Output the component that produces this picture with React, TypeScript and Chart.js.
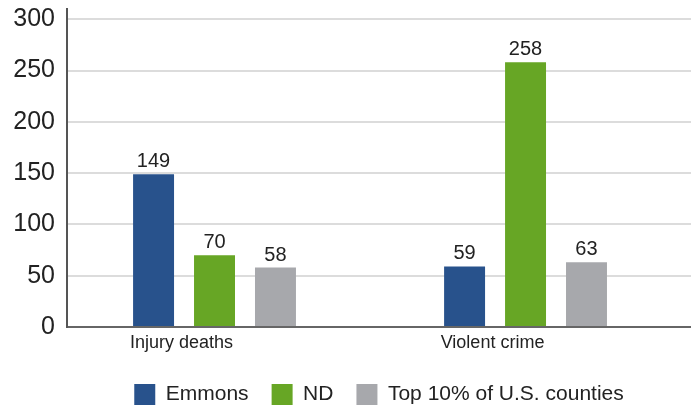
import React, { useEffect, useRef } from "react";
import { Chart, registerables } from "chart.js";

Chart.register(...registerables);

const categories = ["Injury deaths", "Violent crime"];
const seriesNames = ["Emmons", "ND", "Top 10% of U.S. counties"];
const emmonsValues = [149, 59];
const ndValues = [70, 258];
const topCountiesValues = [58, 63];
const yTickValues = [0, 50, 100, 150, 200, 250, 300];
const seriesColors = ["#28528c", "#67a625", "#a7a8ac"];

const FONT = '"Liberation Sans", Arial, Helvetica, sans-serif';

const valueLabels = {
  id: "valueLabels",
  afterDatasetsDraw(chart: any) {
    const ctx = chart.ctx;
    ctx.save();
    ctx.font = `20px ${FONT}`;
    ctx.fillStyle = "#222";
    ctx.textAlign = "center";
    ctx.textBaseline = "alphabetic";
    chart.data.datasets.forEach((ds: any, i: number) => {
      const meta = chart.getDatasetMeta(i);
      meta.data.forEach((el: any, j: number) => {
        ctx.fillText(String(ds.data[j].y), el.x, el.y - 7);
      });
    });
    ctx.restore();
  },
};

export default function App() {
  const ref = useRef<HTMLCanvasElement>(null);
  useEffect(() => {
    if (!ref.current) return;
    const seriesValues = [emmonsValues, ndValues, topCountiesValues];
    const chart = new Chart(ref.current, {
      type: "bar",
      data: {
        datasets: seriesNames.map((name, s) => ({
          label: name,
          data: categories.map((_, i) => ({ x: i + 1, y: seriesValues[s][i] })),
          backgroundColor: seriesColors[s],
          borderWidth: 0,
          categoryPercentage: 0.588,
          barPercentage: 0.672,
        })),
      },
      options: {
        responsive: false,
        animation: false,
        layout: { padding: { left: 0, right: 0, top: 9, bottom: -7 } },
        plugins: {
          tooltip: { enabled: false },
          legend: {
            position: "bottom",
            fullSize: false,
            labels: {
              boxWidth: 21,
              boxHeight: 21,
              padding: 23,
              color: "#222",
              font: { family: FONT, size: 21 },
            },
          },
        },
        scales: {
          x: {
            type: "linear",
            min: 0.5257,
            max: 2.532,
            offset: false,
            grid: { display: false, offset: false, drawTicks: false },
            border: { display: true, color: "#666", width: 2 },
            afterBuildTicks: (s: any) => {
              s.ticks = categories.map((_, i) => ({ value: i + 1 }));
            },
            afterFit: (s: any) => {
              s.height = 34;
              s.paddingLeft = 0;
              s.paddingRight = 0;
            },
            ticks: {
              padding: 5,
              labelOffset: -33,
              color: "#222",
              font: { family: FONT, size: 18 },
              callback: (v: any) => categories[Math.round(Number(v)) - 1] ?? "",
            },
          },
          y: {
            min: 0,
            max: 310,
            afterBuildTicks: (s: any) => {
              s.ticks = yTickValues.map((v) => ({ value: v }));
            },
            afterFit: (s: any) => {
              s.width = 67;
              s.paddingTop = 0;
              s.paddingBottom = 0;
            },
            grid: { color: "#dcdcdc", lineWidth: 2, drawTicks: false },
            border: { display: true, color: "#555", width: 2 },
            ticks: {
              padding: 12,
              color: "#222",
              font: { family: FONT, size: 25 },
            },
          },
        },
      },
      plugins: [valueLabels],
    } as any);
    return () => chart.destroy();
  }, []);
  return (
    <div style={{ position: "fixed", left: 0, top: 0, width: 691, height: 408, background: "#fff" }}>
      <canvas ref={ref} width={691} height={408} style={{ display: "block" }} />
    </div>
  );
}
